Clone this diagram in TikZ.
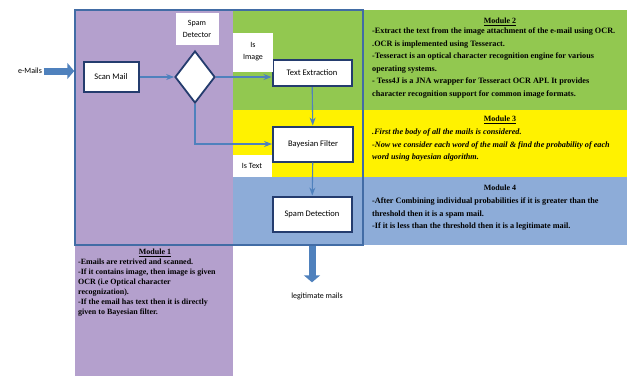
\documentclass[tikz,border=0pt]{standalone}
\usepackage{fontspec}
\setmainfont{Liberation Serif}
\newfontfamily\calibri{Carlito}
\usetikzlibrary{shapes,arrows.meta,positioning,calc}
\definecolor{lavender}{RGB}{180,160,205}
\definecolor{leaf}{RGB}{146,200,80}
\definecolor{sky}{RGB}{141,172,216}
\definecolor{navy}{RGB}{36,60,110}
\definecolor{link}{RGB}{79,129,189}
\tikzset{
  >=Stealth,
  proc/.style={draw=navy,line width=2pt,fill=white,font=\calibri\fontsize{8.5}{9}\selectfont,inner sep=0pt},
  dec/.style={draw=navy,diamond,line width=1.8pt,fill=white,minimum width=40pt,minimum height=52pt,inner sep=0pt},
  tag/.style={fill=white,align=center,font=\calibri\fontsize{8}{12}\selectfont,inner sep=0pt},
  flow/.style={->,draw=link,line width=1.1pt},
  fat/.style={-{Triangle[length=7pt,width=16pt]},draw=link,line width=7pt},
  modtitle/.style={font=\bfseries\fontsize{8}{10}\selectfont,inner sep=0pt},
  modtext/.style={align=left,anchor=north west,inner sep=0pt,font=\bfseries\fontsize{8.2}{12.5}\selectfont}
}

\begin{document}
\begin{tikzpicture}[x=1pt,y=-1pt]
\useasboundingbox(0,0)rectangle(627,376);
% coloured bands
\fill[lavender](75,10)rectangle(233,376);
\fill[leaf](233,10)rectangle(627,110);
\fill[yellow](233,110)rectangle(627,177);
\fill[sky](233,177)rectangle(627,245);
\node[draw=link!70!navy,line width=1.5pt,minimum width=288pt,minimum height=235pt,inner sep=0pt](frame)at(219,127.5){};
% flow
\node[font=\calibri\fontsize{8}{9}\selectfont,inner sep=1.5pt](emails)at(30,71){e-Mails};
\node[proc,minimum width=55pt,minimum height=30pt](scan)at(111,77){Scan Mail};
\node[dec](detect)at(195,77){};
\node[tag,minimum width=43pt,minimum height=32pt](detlbl)at(197,29){Spam\\Detector};
\node[proc,minimum width=79pt,minimum height=26pt](extract)at(312,73){Text Extraction};
\node[tag,minimum width=40pt,minimum height=39pt](imglbl)at(253,52){Is\\Image};
\node[proc,minimum width=80pt,minimum height=35pt](bayes)at(313,144){Bayesian Filter};
\node[tag,minimum width=39pt,minimum height=22pt](txtlbl)at(252,166){Is Text};
\node[proc,minimum width=79pt,minimum height=35pt](spam)at(312,214){Spam Detection};
\node[font=\calibri\fontsize{8}{9}\selectfont,inner sep=0pt](legit)at(317,296){legitimate mails};
\draw[fat](emails.east)--(emails.east-|frame.west);
\draw[flow](scan)--(detect);
\draw[flow](detect.east)--(detect.east-|extract.west);
\draw[flow](detect.south)|-(bayes.west);
\draw[flow](extract)--(bayes);
\draw[flow](bayes)--(spam);
\draw[fat,shorten >=10pt](spam.south|-frame.south)--(spam.south|-legit.north);
% modules
\node[modtitle](m2title)at(500,22){\underline{Module 2}};
\node[modtext](m2)at(372,28){-Extract the text from the image attachment of the e-mail using OCR.\\
.OCR is implemented using Tesseract.\\
-Tesseract is an optical character recognition engine  for various\\
operating systems.\\
- Tess4J is a JNA wrapper for Tesseract OCR API. It provides\\
character recognition support for common image formats.};
\node[modtitle](m3title)at(500,120){\underline{Module 3}};
\node[modtext,font=\bfseries\itshape\fontsize{8.2}{12.5}\selectfont](m3)at(372,129){.First the body of all the mails is considered.\\
-Now we consider each word of the mail \& find the probability of each\\
word using bayesian algorithm.};
\node[modtitle](m4title)at(500,188){Module 4};
\node[modtext](m4)at(372,198){-After Combining individual probabilities if it is greater than  the\\
threshold then it is  a spam mail.\\
-If it is less than  the threshold then it is a legitimate mail.};
\node[modtitle](m1title)at(155,253){\underline{Module 1}};
\node[modtext,font=\bfseries\fontsize{8}{10}\selectfont](m1)at(78,259){-Emails are retrived and scanned.\\
-If it contains image, then image is given\\
OCR (i.e Optical character\\
recognization).\\
-If the email has text then it is directly\\
given to Bayesian filter.};
\end{tikzpicture}
\end{document}
